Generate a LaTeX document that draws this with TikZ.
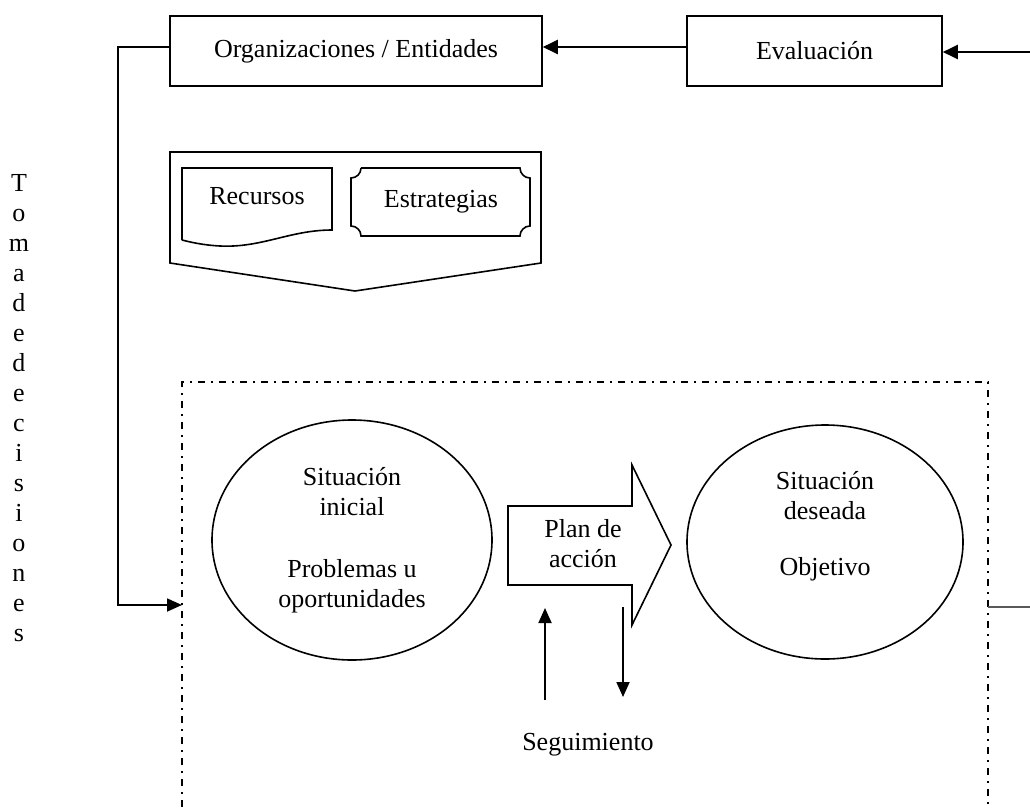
\documentclass[tikz,border=0pt]{standalone}
\usepackage{fontspec}
\setmainfont{Liberation Serif}
\usetikzlibrary{arrows.meta,shapes.geometric,positioning}

\tikzset{
  frame/.style={draw, line width=1.6pt},
  ebox/.style={frame, minimum height=70pt, inner sep=0pt},
  oval/.style={frame, ellipse, inner sep=0pt, align=center},
  lbl/.style={align=center, inner sep=0pt},
  flow/.style={line width=2.4pt, -{Triangle[length=15pt,width=14pt]}},
  thinflow/.style={line width=1.8pt, -{Triangle[length=15pt,width=13pt]}},
  dashdot/.style={line width=1.8pt, dash pattern=on 7pt off 6pt on 2pt off 6pt},
}

\begin{document}
\begin{tikzpicture}[x=1pt, y=-1pt, font=\fontsize{26}{30}\selectfont]
\useasboundingbox (0,0) rectangle (1030,807);

% top row
\node[ebox, minimum width=372pt] (org) at (356,51) {Organizaciones / Entidades};
\node[ebox, minimum width=255pt] (eval) at (814.5,51) {Evaluación};
\coordinate (fb) at (1030,52);
\draw[flow] ([yshift=4pt]eval.west) -- ([yshift=4pt]org.east);
\draw[flow] (fb) -- (fb -| eval.east);

% resources and strategies
\draw[frame] (170,152) -- (541,152) -- (541,263) -- (355,291) -- (170,263) -- cycle;
\draw[frame] (182,240) -- (182,168) -- (332,168) -- (332,230)
  .. controls (290,230) and (262,248) .. (220,246)
  .. controls (202,245) and (190,242) .. (182,240);
\node[lbl] (rec) at (257,196) {Recursos};
\draw[frame] (361,168) -- (520,168) arc[start angle=180, end angle=90, radius=10]
  -- (530,226) arc[start angle=270, end angle=180, radius=10]
  -- (361,236) arc[start angle=0, end angle=-90, radius=10]
  -- (351,178) arc[start angle=90, end angle=0, radius=10];
\node[lbl] (est) at (441,202) {Estrategias};

% decision zone
\coordinate (zsw) at (182,807);
\coordinate (znw) at (182,382);
\coordinate (zne) at (988,382);
\coordinate (zse) at (988,807);
\draw[dashdot] (zsw) -- (znw) -- (zne) -- (zse);
\coordinate (entry) at (182,605);
\draw[thinflow] ([yshift=4pt]org.west) -- ++(-51,0) |- (entry);
\coordinate (exit) at (988,607);
\coordinate (out) at (1030,607);
\draw[line width=1.6pt, black!65] (exit) -- (out);

\node[lbl] (tdd) at (19,408) {\fontsize{26}{29.5}\selectfont T\\o\\m\\a\\d\\e\\d\\e\\c\\i\\s\\i\\o\\n\\e\\s};

% situations
\node[oval, minimum width=280pt, minimum height=240pt] (ini) at (352,540)
  {Situación\\inicial\\[32pt]Problemas u\\oportunidades};
\node[oval, minimum width=276pt, minimum height=234pt] (goal) at (825,542) {};
\node[lbl] (goaltxt) at ([yshift=16pt]goal.center) {Situación\\deseada\\[26pt]Objetivo};

\draw[frame] (508,506) -- (632,506) -- (632,465) -- (671,545) -- (632,625)
  -- (632,585) -- (508,585) -- cycle;
\node[lbl] (plan) at (583,544) {Plan de\\acción};

% follow-up
\coordinate (upfoot) at (545,700);
\coordinate (uptip) at (545,608);
\coordinate (dntop) at (623,607);
\coordinate (dntip) at (623,697);
\draw[thinflow] (upfoot) -- (uptip);
\draw[thinflow] (dntop) -- (dntip);
\node[lbl] (seg) at (588,745) {Seguimiento};
\end{tikzpicture}
\end{document}
